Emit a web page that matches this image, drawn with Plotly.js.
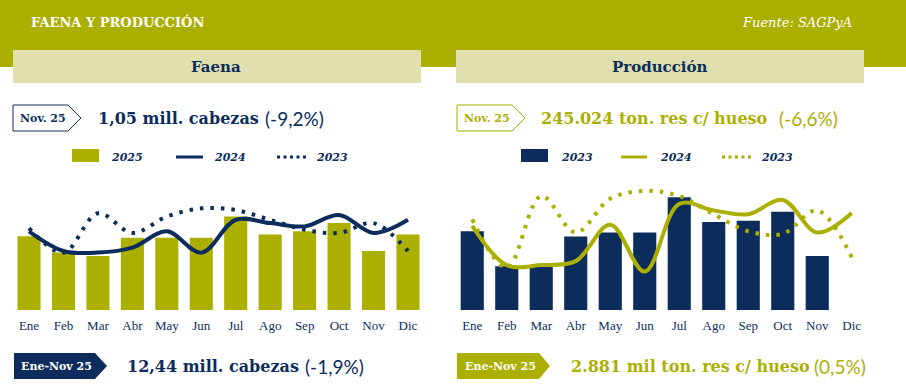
<!DOCTYPE html>
<html>
<head>
<meta charset="utf-8">
<script src="https://cdn.plot.ly/plotly-3.0.1.min.js"></script>
<style>html,body{margin:0;padding:0;background:#fff;}#chart{width:906px;height:385px;}</style>
</head>
<body>
<div id="chart"></div>
<script>
// ---- data ----
const months = ['Ene','Feb','Mar','Abr','May','Jun','Jul','Ago','Sep','Oct','Nov','Dic'];
// Faena (millones de cabezas)
const faena2025 = [1.14,1.04,1.02,1.13,1.13,1.13,1.26,1.15,1.17,1.22,1.05,1.15];
const faena2024 = [1.17,1.05,1.04,1.07,1.17,1.04,1.24,1.22,1.20,1.27,1.16,1.24];
const faena2023 = [1.19,1.04,1.28,1.16,1.26,1.31,1.30,1.24,1.18,1.16,1.22,1.05];
// Producción (miles de ton. res c/ hueso)
const prodBars = [264,237,237,260,263,263,290,271,272,279,245,null];
const prod2024 = [268,238,238,241,269,233,285,280,277,288,263,278];
const prod2023 = [273,236,291,263,289,295,291,277,264,262,280,244];
const legendLeft = ['2025','2024','2023'];
const legendRight = ['2023','2024','2023'];

// ---- style ----
const W = 906, H = 385;
const OLIVE = '#abb000';
const NAVY = '#0c2d5c';
const BEIGE = '#e0e0ae';
const X = v => v / W;
const Y = v => 1 - v / H;
const P = (x, y) => X(x).toFixed(5) + ',' + Y(y).toFixed(5);
const path = pts => 'M' + pts.map(p => P(p[0], p[1])).join(' L') + ' Z';

const traces = [
  {type:'bar', x:months, y:faena2025, xaxis:'x', yaxis:'y', marker:{color:OLIVE}, hoverinfo:'skip'},
  {type:'scatter', mode:'lines', x:months, y:faena2023, xaxis:'x', yaxis:'y',
   line:{color:NAVY, width:4, dash:'3.5px,7px', shape:'spline', smoothing:1}},
  {type:'scatter', mode:'lines', x:months, y:faena2024, xaxis:'x', yaxis:'y',
   line:{color:NAVY, width:4, shape:'spline', smoothing:1}},
  {type:'bar', x:months, y:prodBars, xaxis:'x2', yaxis:'y2', marker:{color:NAVY}, hoverinfo:'skip'},
  {type:'scatter', mode:'lines', x:months, y:prod2023, xaxis:'x2', yaxis:'y2',
   line:{color:OLIVE, width:4, dash:'3.5px,7px', shape:'spline', smoothing:1}},
  {type:'scatter', mode:'lines', x:months, y:prod2024, xaxis:'x2', yaxis:'y2',
   line:{color:OLIVE, width:4, shape:'spline', smoothing:1}}
];

const tickfont = {family:'Liberation Serif', size:13, color:NAVY};
const ax = (dom, anchor) => ({domain:dom, anchor:anchor, showgrid:false, zeroline:false, showline:false,
  ticks:'', tickfont:tickfont, fixedrange:true, ticklabelstandoff:6});
const ydom = [Y(310), Y(170)];

const shapes = [
  {type:'rect', xref:'paper', yref:'paper', x0:0, x1:1, y0:Y(67), y1:1, fillcolor:OLIVE, line:{width:0}, layer:'below'},
  {type:'rect', xref:'paper', yref:'paper', x0:X(13), x1:X(421), y0:Y(83), y1:Y(50), fillcolor:BEIGE, line:{width:0}, layer:'below'},
  {type:'rect', xref:'paper', yref:'paper', x0:X(456), x1:X(864), y0:Y(83), y1:Y(50), fillcolor:BEIGE, line:{width:0}, layer:'below'},
  // tags
  {type:'path', xref:'paper', yref:'paper', path:path([[13,105],[68,105],[81,118],[68,131],[13,131]]), fillcolor:'#fff', line:{color:NAVY, width:1}},
  {type:'path', xref:'paper', yref:'paper', path:path([[457,105],[512,105],[525,118],[512,131],[457,131]]), fillcolor:'#fff', line:{color:OLIVE, width:1}},
  {type:'path', xref:'paper', yref:'paper', path:path([[14,353],[95,353],[107,366],[95,379],[14,379]]), fillcolor:NAVY, line:{width:0}},
  {type:'path', xref:'paper', yref:'paper', path:path([[457,353],[539,353],[550,366],[539,379],[457,379]]), fillcolor:OLIVE, line:{width:0}},
  // legend symbols left
  {type:'rect', xref:'paper', yref:'paper', x0:X(72), x1:X(99), y0:Y(162), y1:Y(149), fillcolor:OLIVE, line:{width:0}},
  {type:'line', xref:'paper', yref:'paper', x0:X(176), x1:X(203), y0:Y(157), y1:Y(157), line:{color:NAVY, width:3}},
  {type:'line', xref:'paper', yref:'paper', x0:X(277), x1:X(306), y0:Y(157), y1:Y(157), line:{color:NAVY, width:3, dash:'3px,3.5px'}},
  // legend symbols right
  {type:'rect', xref:'paper', yref:'paper', x0:X(521), x1:X(548), y0:Y(162), y1:Y(149), fillcolor:NAVY, line:{width:0}},
  {type:'line', xref:'paper', yref:'paper', x0:X(621), x1:X(647), y0:Y(157), y1:Y(157), line:{color:OLIVE, width:3}},
  {type:'line', xref:'paper', yref:'paper', x0:X(722), x1:X(751), y0:Y(157), y1:Y(157), line:{color:OLIVE, width:3, dash:'3px,3.5px'}}
];

const A = (text, x, y, font, xanchor) => ({text:text, xref:'paper', yref:'paper', x:X(x), y:Y(y),
  xanchor:xanchor || 'left', yanchor:'middle', showarrow:false, font:font, borderpad:0});
const serifB = (size, color) => ({family:'DejaVu Serif', size:size, color:color, weight:'bold'});
const sans = (size, color) => ({family:'Lato', size:size, color:color});
const legFont = (c) => ({family:'DejaVu Serif', size:11, color:c, weight:'bold', style:'italic'});

const annotations = [
  A('FAENA Y PRODUCCIÓN', 30, 22, serifB(13, '#ffffff')),
  A('Fuente: SAGPyA', 853, 22, {family:'DejaVu Serif', size:13, color:'#ffffff', style:'italic'}, 'right'),
  A('Faena', 216, 67, serifB(15, NAVY), 'center'),
  A('Producción', 660, 67, serifB(15, NAVY), 'center'),
  A('Nov. 25', 43, 118, serifB(11, NAVY), 'center'),
  A('1,05 mill. cabezas', 97, 118, serifB(16, NAVY)),
  A('(-9,2%)', 264, 118, sans(19, NAVY)),
  A('Nov. 25', 487, 118, serifB(11, OLIVE), 'center'),
  A('245.024 ton. res c/ hueso', 540, 118, serifB(16, OLIVE)),
  A('(-6,6%)', 778, 118, sans(19, OLIVE)),
  A(legendLeft[0], 110, 157, legFont(NAVY)),
  A(legendLeft[1], 213, 157, legFont(NAVY)),
  A(legendLeft[2], 315, 157, legFont(NAVY)),
  A(legendRight[0], 560, 157, legFont(NAVY)),
  A(legendRight[1], 659, 157, legFont(NAVY)),
  A(legendRight[2], 760, 157, legFont(NAVY)),
  A('Ene-Nov 25', 56, 366, serifB(11, '#ffffff'), 'center'),
  A('12,44 mill. cabezas', 126, 366, serifB(16, NAVY)),
  A('(-1,9%)', 304, 366, sans(19, NAVY)),
  A('Ene-Nov 25', 500, 366, serifB(11, '#ffffff'), 'center'),
  A('2.881 mil ton. res c/ hueso', 570, 366, serifB(16, OLIVE)),
  A('(0,5%)', 813, 366, sans(19, OLIVE))
];

const layout = {
  width:W, height:H, margin:{l:0, r:0, t:0, b:0},
  paper_bgcolor:'#ffffff', plot_bgcolor:'rgba(0,0,0,0)',
  showlegend:false, bargap:0.33, hovermode:false,
  xaxis:ax([X(11.8), X(425.2)], 'y'),
  xaxis2:ax([X(455), X(869)], 'y2'),
  yaxis:{domain:ydom, range:[0.69, 1.544], visible:false, fixedrange:true},
  yaxis2:{domain:ydom, range:[203.5, 311], visible:false, fixedrange:true},
  shapes:shapes, annotations:annotations
};

Plotly.newPlot('chart', traces, layout, {displayModeBar:false, staticPlot:true});
</script>
</body>
</html>
